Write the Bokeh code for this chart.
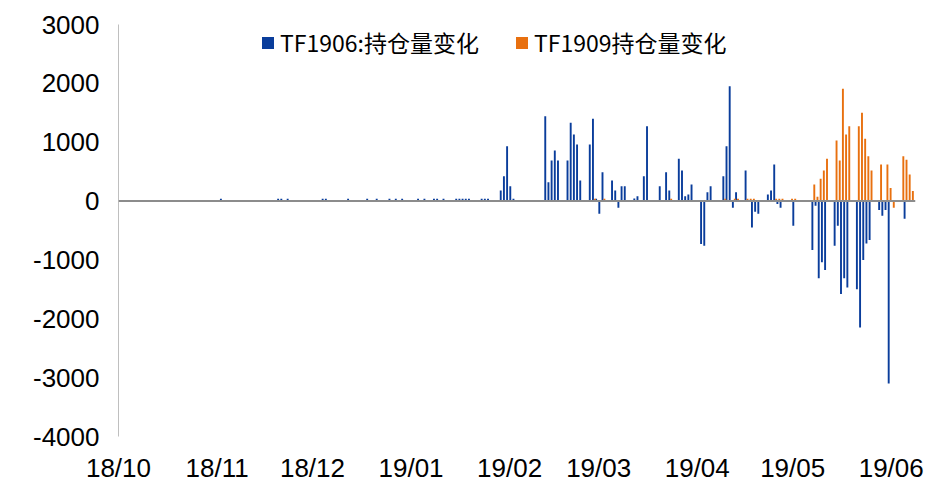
import pandas as pd
from bokeh.plotting import figure
from bokeh.models import FixedTicker, Span, Legend, LegendItem, Range1d
from bokeh.embed import file_html
from bokeh.resources import INLINE

# ---------------- data ----------------
tf1906_dates = [
    "2018-11-01", "2018-11-19", "2018-11-20", "2018-11-22", "2018-12-03", "2018-12-04",
    "2018-12-11", "2018-12-17", "2018-12-20", "2018-12-24", "2018-12-26", "2018-12-28",
    "2019-01-02", "2019-01-04", "2019-01-07", "2019-01-08", "2019-01-10", "2019-01-14",
    "2019-01-15", "2019-01-16", "2019-01-17", "2019-01-18", "2019-01-22", "2019-01-23",
    "2019-01-24", "2019-01-28", "2019-01-29", "2019-01-30", "2019-01-31", "2019-02-01",
    "2019-02-11", "2019-02-12", "2019-02-13", "2019-02-14", "2019-02-15",
    "2019-02-18", "2019-02-19", "2019-02-20", "2019-02-21", "2019-02-22",
    "2019-02-25", "2019-02-26", "2019-02-27", "2019-02-28", "2019-03-01",
    "2019-03-04", "2019-03-05", "2019-03-06", "2019-03-07", "2019-03-08",
    "2019-03-11", "2019-03-12", "2019-03-14", "2019-03-15",
    "2019-03-19", "2019-03-21", "2019-03-22",
    "2019-03-25", "2019-03-26", "2019-03-27", "2019-03-28", "2019-03-29",
    "2019-04-01", "2019-04-02", "2019-04-03", "2019-04-04",
    "2019-04-08", "2019-04-09", "2019-04-10", "2019-04-11", "2019-04-12",
    "2019-04-15", "2019-04-17", "2019-04-18", "2019-04-19",
    "2019-04-22", "2019-04-23", "2019-04-24", "2019-04-25", "2019-04-26",
    "2019-04-30",
    "2019-05-06", "2019-05-07", "2019-05-08", "2019-05-09", "2019-05-10",
    "2019-05-13", "2019-05-14", "2019-05-15", "2019-05-16", "2019-05-17",
    "2019-05-20", "2019-05-21", "2019-05-22", "2019-05-23", "2019-05-24",
    "2019-05-27", "2019-05-28", "2019-05-29", "2019-05-30",
    "2019-06-04",
]
tf1906_values = [
    40, 40, 40, 40, 40, 40,
    40, 40, 40, 40, 40, 40,
    40, 40, 40, 40, 40, 40,
    40, 40, 40, 40, 40, 40,
    40, 180, 420, 930, 250, 40,
    1440, 320, 690, 860, 690,
    690, 1330, 1130, 960, 350,
    960, 1400, 40, -215, 490,
    350, 180, -115, 250, 250,
    45, 80, 420, 1270,
    250, 490, 180,
    720, 520, 80, 110, 280,
    -730, -760, 150, 250,
    420, 930, 1950, -115, 150,
    520, -450, -180, -215,
    110, 180, 620, -50, -115,
    -420,
    -830, -80, -1310, -1040, -1170,
    -760, -420, -1580, -1310, -1470,
    -1500, -2150, -1000, -720, -660,
    -150, -250, -150, -3100,
    -300,
]

tf1909_dates = [
    "2019-02-26", "2019-03-01", "2019-03-22", "2019-04-08", "2019-04-11", "2019-04-12",
    "2019-04-15", "2019-04-16", "2019-04-17", "2019-04-24", "2019-04-25", "2019-04-26",
    "2019-04-29", "2019-04-30",
    "2019-05-06", "2019-05-07", "2019-05-08", "2019-05-09", "2019-05-10",
    "2019-05-13", "2019-05-14", "2019-05-15", "2019-05-16", "2019-05-17",
    "2019-05-20", "2019-05-21", "2019-05-22", "2019-05-23", "2019-05-24",
    "2019-05-27", "2019-05-29", "2019-05-30", "2019-05-31",
    "2019-06-03", "2019-06-04", "2019-06-05", "2019-06-06",
]
tf1909_values = [
    40, 40, 40, 40, 40, 40,
    40, 40, 40, 40, 40, 40,
    40, 40,
    280, 75, 380, 520, 720,
    1030, 690, 1910, 1130, 1270,
    1270, 1500, 1060, 760, 520,
    620, 620, 220, -115,
    760, 700, 450, 170,
]

series_names = ["TF1906:持仓量变化", "TF1909持仓量变化"]
x_tick_dates = ["2018-10-01", "2018-11-01", "2018-12-01", "2019-01-01", "2019-02-01",
                "2019-03-01", "2019-04-01", "2019-05-01", "2019-06-01"]
x_tick_labels = ["18/10", "18/11", "18/12", "19/01", "19/02", "19/03", "19/04", "19/05", "19/06"]
y_ticks = [-4000, -3000, -2000, -1000, 0, 1000, 2000, 3000]
y_tick_labels = ["-4000", "-3000", "-2000", "-1000", "0", "1000", "2000", "3000"]

# ---------------- helpers ----------------
origin = pd.Timestamp("2018-10-01")


def day_offsets(dates):
    return [(pd.Timestamp(d) - origin).days for d in dates]


blue = "#0A3D9B"
orange = "#E8700F"
tick_font = "Liberation Sans"
nan = float("nan")

x_end = 797 / 3.18  # days visible in the frame

p = figure(width=941, height=488, output_backend="svg", toolbar_location=None,
           x_range=Range1d(0, x_end), y_range=Range1d(-4000, 3000),
           min_border_left=118, min_border_right=26, min_border_top=24, min_border_bottom=52)
p.outline_line_color = None
p.xgrid.grid_line_color = None
p.ygrid.grid_line_color = None
p.background_fill_color = "white"
p.border_fill_color = "white"

bx = [d + 1.2 for d in day_offsets(tf1906_dates)]
ox = [d + 1.8 for d in day_offsets(tf1909_dates)]

zero = Span(location=0, dimension="width", line_color="#8C8C8C", line_width=2)
p.add_layout(zero)

r1 = p.vbar(x=bx, top=tf1906_values, bottom=0, width=0.6, fill_color=blue, line_color=None)
r2 = p.vbar(x=ox, top=tf1909_values, bottom=0, width=0.6, fill_color=orange, line_color=None)

# square swatches for the legend only (no visible data point)
s1 = p.rect(x=[nan], y=[nan], width=12, height=12, width_units="screen", height_units="screen",
            fill_color=blue, line_color=None)
s2 = p.rect(x=[nan], y=[nan], width=12, height=12, width_units="screen", height_units="screen",
            fill_color=orange, line_color=None)

# x axis
xt = day_offsets(x_tick_dates)
p.xaxis.ticker = FixedTicker(ticks=xt)
p.xaxis.major_label_overrides = {t: l for t, l in zip(xt, x_tick_labels)}
p.xaxis.axis_line_color = None
p.xaxis.major_tick_line_color = None
p.xaxis.minor_tick_line_color = None
p.xaxis.major_label_text_font = tick_font
p.xaxis.major_label_text_font_size = "26px"
p.xaxis.major_label_text_color = "#000000"
p.xaxis.major_label_standoff = 10

# y axis
p.yaxis.ticker = FixedTicker(ticks=y_ticks)
p.yaxis.major_label_overrides = {t: l for t, l in zip(y_ticks, y_tick_labels)}
p.yaxis.axis_line_color = "#BFBFBF"
p.yaxis.axis_line_width = 1
p.yaxis.major_tick_line_color = None
p.yaxis.minor_tick_line_color = None
p.yaxis.major_label_text_font = tick_font
p.yaxis.major_label_text_font_size = "26px"
p.yaxis.major_label_text_color = "#000000"
p.yaxis.major_label_standoff = 13

legend = Legend(items=[LegendItem(label=series_names[0], renderers=[s1]),
                       LegendItem(label=series_names[1], renderers=[s2])],
                orientation="horizontal", location=(142, 377))
legend.label_text_font = "Noto Sans CJK SC"
legend.label_text_font_size = "23px"
legend.label_text_color = "#000000"
legend.glyph_width = 15
legend.glyph_height = 15
legend.label_standoff = 5
legend.spacing = 35
legend.padding = 0
legend.margin = 0
legend.border_line_color = None
legend.background_fill_alpha = 0
p.add_layout(legend)

open("out.html", "w").write(file_html(p, INLINE))
